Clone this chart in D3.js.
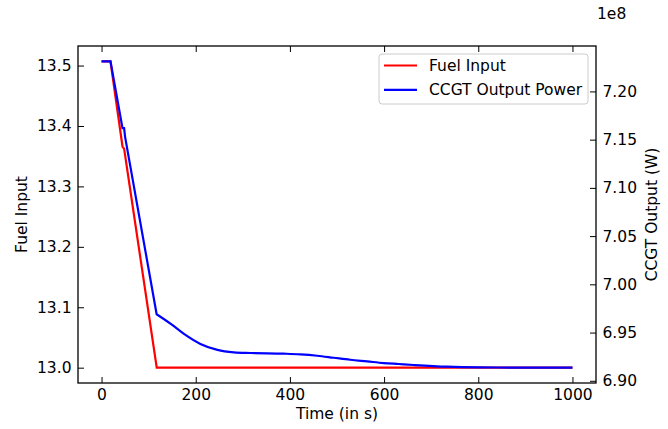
<!DOCTYPE html>
<html>
<head>
<meta charset="utf-8">
<script src="https://cdn.jsdelivr.net/npm/d3@7"></script>
<style>
  body { margin: 0; background: #fff; }
  text { font-family: "DejaVu Sans", sans-serif; fill: #000; }
</style>
</head>
<body>
<div id="chart"></div>
<script>
// data
var fuelTime = [0, 19, 44.5, 48, 117.2, 1000];
var fuelInput = [13.507, 13.507, 13.366, 13.362, 13.0, 13.0];

var outTime = [0, 19, 44.5, 47.9, 50, 117, 147, 175, 210, 246, 281, 316, 387, 422, 458, 493, 528, 564, 599, 631, 663, 733, 804, 900, 1000];
var outPower = [7.2312, 7.2312, 7.1619, 7.1619, 7.1529, 6.9690, 6.9590, 6.9486, 6.9382, 6.9320, 6.9295, 6.9288, 6.9281, 6.9274, 6.9260, 6.9239, 6.9218, 6.9201, 6.9184, 6.9174, 6.9164, 6.9146, 6.9139, 6.9137, 6.9136]; // x 1e8 W
var rampEnd = 5; // index where the steep ramp ends and the slow decay starts

var xTicks = [0, 200, 400, 600, 800, 1000];
var leftTicks = [13.0, 13.1, 13.2, 13.3, 13.4, 13.5];
var rightTicks = [6.90, 6.95, 7.00, 7.05, 7.10, 7.15, 7.20];

var margin = { top: 46, right: 72, bottom: 46, left: 78 },
    width = 668 - margin.left - margin.right,
    height = 429 - margin.top - margin.bottom;

// matplotlib style 5% padding
function padded(vals) {
    var lo = d3.min(vals), hi = d3.max(vals), r = hi - lo;
    return [lo - 0.05 * r, hi + 0.05 * r];
}

var x = d3.scaleLinear().domain(padded(fuelTime.concat(outTime))).range([0, width]);
var yL = d3.scaleLinear().domain(padded(fuelInput)).range([height, 0]);
var yR = d3.scaleLinear().domain(padded(outPower)).range([height, 0]);

var svg = d3.select("#chart")
    .append("svg")
    .attr("width", 668)
    .attr("height", 429)
    .append("g")
    .attr("transform", "translate(" + margin.left + "," + margin.top + ")");

var tick = 6, fs = "15.5px";

// x axis bottom + top (inward ticks)
svg.append("g")
    .attr("transform", "translate(0," + height + ")")
    .call(d3.axisBottom(x).tickValues(xTicks).tickFormat(d3.format("d")).tickSizeInner(-tick).tickSizeOuter(0).tickPadding(6))
    .call(function(g) { g.select(".domain").remove(); });

svg.append("g")
    .call(d3.axisTop(x).tickValues(xTicks).tickSizeInner(-tick).tickSizeOuter(0).tickFormat(""))
    .call(function(g) { g.select(".domain").remove(); });

svg.append("g")
    .call(d3.axisLeft(yL).tickValues(leftTicks).tickFormat(d3.format(".1f")).tickSizeInner(-tick).tickSizeOuter(0).tickPadding(6.5))
    .call(function(g) { g.select(".domain").remove(); });

svg.append("g")
    .attr("transform", "translate(" + width + ",0)")
    .call(d3.axisRight(yR).tickValues(rightTicks).tickFormat(d3.format(".2f")).tickSizeInner(-tick).tickSizeOuter(0).tickPadding(6.5))
    .call(function(g) { g.select(".domain").remove(); });

svg.selectAll(".tick text").style("font-size", fs).style("font-family", "DejaVu Sans");
svg.selectAll(".tick line").attr("stroke", "#000").attr("stroke-width", 1);

// lines
var fuelLine = d3.line()
    .x(function(d, i) { return x(fuelTime[i]); })
    .y(function(d) { return yL(d); });

var outPts = outTime.map(function(t, i) { return [x(t), yR(outPower[i])]; });
var rampPath = d3.line()(outPts.slice(0, rampEnd + 1));
var decayPath = d3.line().curve(d3.curveMonotoneX)(outPts.slice(rampEnd));

svg.append("path")
    .datum(fuelInput)
    .attr("d", fuelLine)
    .attr("fill", "none")
    .attr("stroke", "#ff0000")
    .attr("stroke-width", 2.2);

svg.append("path")
    .attr("d", rampPath + decayPath.replace(/^M/, "L"))
    .attr("fill", "none")
    .attr("stroke", "#0000ff")
    .attr("stroke-width", 2.2);

// frame
svg.append("rect")
    .attr("width", width)
    .attr("height", height)
    .attr("fill", "none")
    .attr("stroke", "#000")
    .attr("stroke-width", 1.3);

// labels
svg.append("text")
    .attr("x", width / 2)
    .attr("y", height + 36)
    .attr("text-anchor", "middle")
    .style("font-size", fs)
    .text("Time (in s)");

svg.append("text")
    .attr("transform", "translate(" + (-51) + "," + (height / 2) + ") rotate(-90)")
    .attr("text-anchor", "middle")
    .style("font-size", fs)
    .text("Fuel Input");

svg.append("text")
    .attr("transform", "translate(" + (width + 61) + "," + (height / 2) + ") rotate(-90)")
    .attr("text-anchor", "middle")
    .style("font-size", fs)
    .text("CCGT Output (W)");

svg.append("text")
    .attr("x", width + 1)
    .attr("y", -27)
    .style("font-size", fs)
    .text("1e8");

// legend
var legendItems = [
    { name: "Fuel Input", color: "#ff0000" },
    { name: "CCGT Output Power", color: "#0000ff" }
];
var legend = svg.append("g").attr("transform", "translate(" + (379 - margin.left) + "," + (54 - margin.top) + ")");
legend.append("rect")
    .attr("width", 209)
    .attr("height", 50)
    .attr("rx", 3)
    .attr("fill", "#fff")
    .attr("fill-opacity", 0.8)
    .attr("stroke", "#cccccc");
legend.selectAll("g.item")
    .data(legendItems)
    .enter()
    .append("g")
    .attr("transform", function(d, i) { return "translate(0," + (11.5 + i * 24.3) + ")"; })
    .each(function(d) {
        var g = d3.select(this);
        g.append("line").attr("x1", 5).attr("x2", 38).attr("stroke", d.color).attr("stroke-width", 2.2);
        g.append("text").attr("x", 50).attr("dy", "0.35em").style("font-size", fs).text(d.name);
    });
</script>
</body>
</html>
